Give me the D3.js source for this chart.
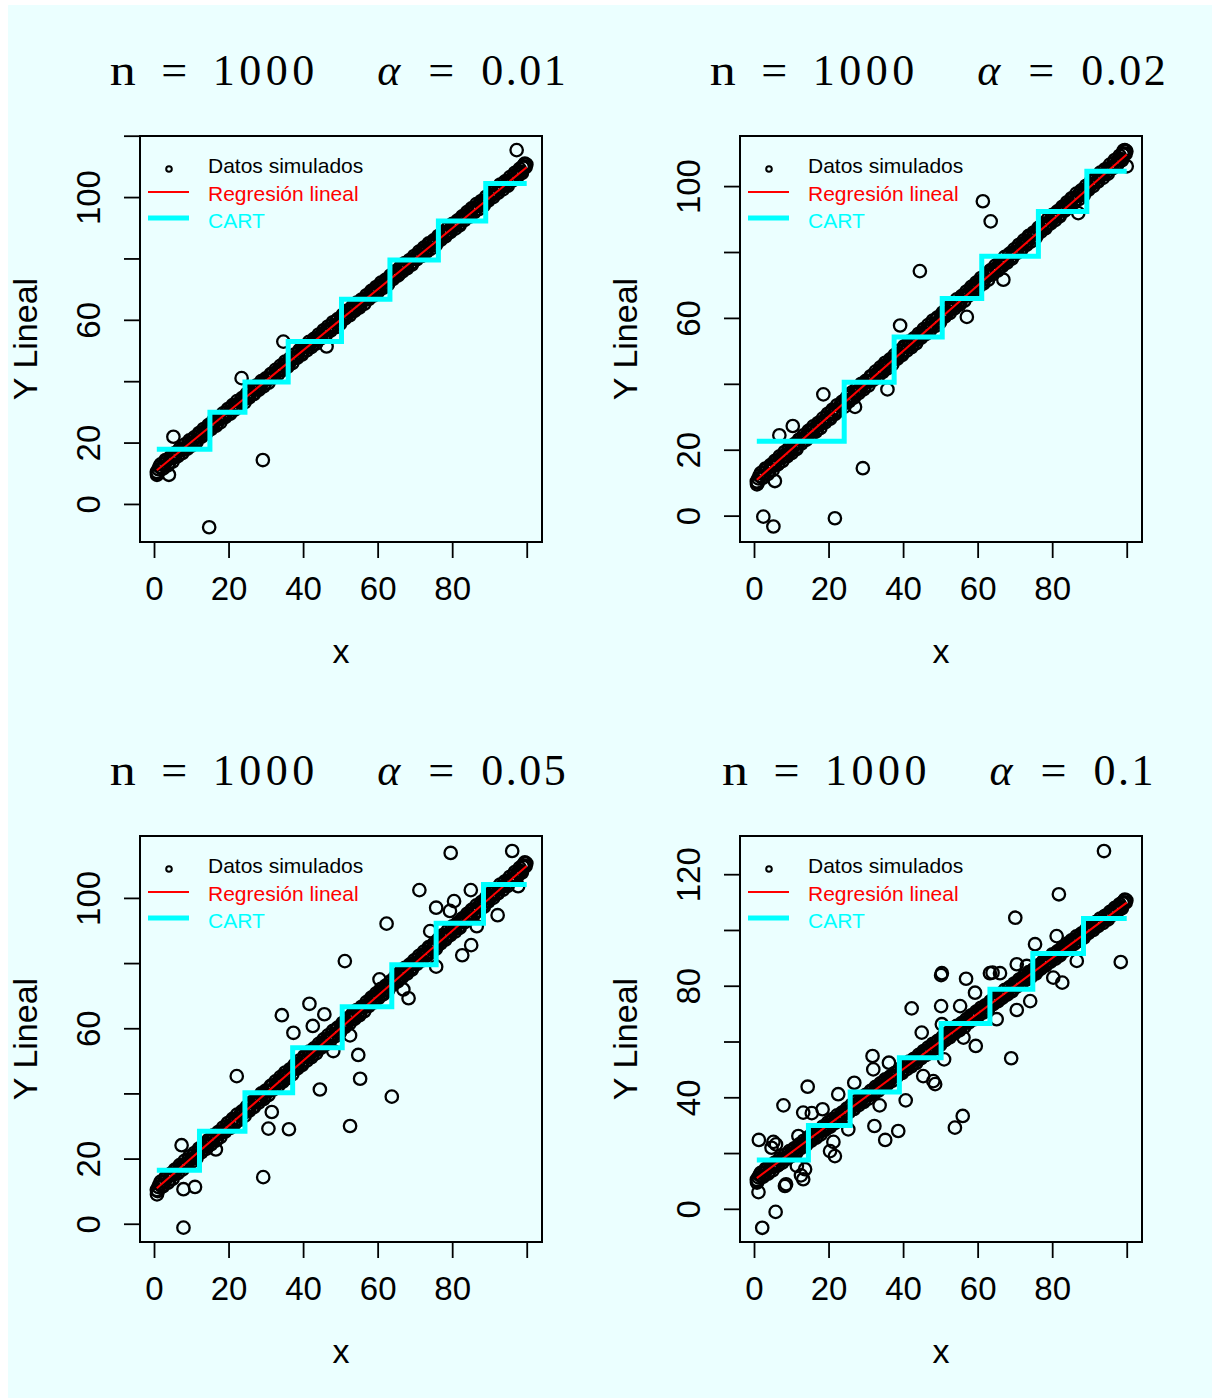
<!DOCTYPE html>
<html>
<head>
<meta charset="utf-8">
<script src="https://cdn.jsdelivr.net/npm/d3@7"></script>
<style>
  body { margin: 0; background: #ffffff; }
  svg { display: block; }
</style>
</head>
<body>
<svg id="fig" width="1212" height="1398"></svg>
<script>
// ---- data -------------------------------------------------------------
const alphas = ["0.01", "0.02", "0.05", "0.1"];
const sampleSize = "1000";

// clean simulated observations shared by every panel (two interleaved sweeps)
const bandX = [0.75,1.2,1.5,2.1,2.8,3.4,4.1,4.7,5.3,6.0,
  6.6,7.3,7.9,8.6,9.2,9.8,10.5,11.1,11.8,12.4,
  13.0,13.7,14.3,15.0,15.6,16.3,16.9,17.5,18.2,18.8,
  19.5,20.1,20.8,21.4,22.0,22.7,23.3,24.0,24.6,25.2,
  25.9,26.5,27.2,27.8,28.5,29.1,29.7,30.4,31.0,31.7,
  32.3,33.0,33.6,34.2,34.9,35.5,36.2,36.8,37.4,38.1,
  38.7,39.4,40.0,40.7,41.3,41.9,42.6,43.2,43.9,44.5,
  45.2,45.8,46.4,47.1,47.7,48.4,49.0,49.6,50.3,50.9,
  51.6,52.2,52.9,53.5,54.1,54.8,55.4,56.1,56.7,57.3,
  58.0,58.6,59.3,59.9,60.6,61.2,61.8,62.5,63.1,63.8,
  64.4,65.1,65.7,66.3,67.0,67.6,68.3,68.9,69.5,70.2,
  70.8,71.5,72.1,72.8,73.4,74.0,74.7,75.3,76.0,76.6,
  77.2,77.9,78.5,79.2,79.8,80.5,81.1,81.7,82.4,83.0,
  83.7,84.3,84.9,85.6,86.2,86.9,87.5,88.2,88.8,89.4,
  90.1,90.7,91.4,92.0,92.6,93.3,93.9,94.6,95.2,95.9,
  96.5,97.1,97.8,98.4,99.1,99.7,99.9,99.5,98.9];
const bandY = [10.4,11.3,12.1,11.6,12.9,14.1,13.5,14.9,15.2,16.5,
  15.9,17.6,17.9,18.2,19.8,19.6,20.9,20.5,21.9,23.1,
  22.7,23.9,23.8,25.5,25.5,26.6,26.2,28.1,28.0,28.8,
  29.9,29.6,31.5,31.1,32.1,32.1,33.8,33.9,34.9,34.8,
  36.5,35.8,37.4,37.8,38.2,39.6,39.2,40.8,40.8,42.4,
  41.7,43.1,43.9,43.8,45.5,45.4,45.5,47.2,47.6,47.8,
  49.2,48.9,50.0,51.4,51.1,52.2,52.0,53.8,53.5,54.6,
  55.6,55.1,56.6,57.0,58.2,58.1,59.7,59.1,60.3,61.2,
  61.0,62.8,62.7,63.9,63.7,64.9,64.7,66.6,66.9,67.0,
  68.7,68.5,68.8,70.2,71.2,70.6,71.8,72.9,72.9,74.3,
  74.0,75.3,75.0,76.9,77.1,77.3,79.0,78.4,79.8,80.1,
  81.2,80.9,82.6,82.8,83.2,84.6,84.3,85.5,85.3,86.9,
  87.9,87.6,88.6,88.7,90.3,90.4,91.5,91.1,93.0,93.0,
  93.5,94.6,94.2,96.3,95.8,97.1,98.0,97.7,98.9,99.1,
  100.7,100.6,101.8,101.4,102.9,103.3,104.6,104.2,105.4,105.7,
  107.0,106.6,108.1,108.2,109.5,109.8,110.6,110.9,109.9];
const bandX2 = [1.0,1.8,2.4,3.1,3.7,4.4,5.0,5.6,6.3,6.9,
  7.6,8.2,8.9,9.5,10.1,10.8,11.4,12.1,12.7,13.3,
  14.0,14.6,15.3,15.9,16.6,17.2,17.8,18.5,19.1,19.8,
  20.4,21.1,21.7,22.3,23.0,23.6,24.3,24.9,25.5,26.2,
  26.8,27.5,28.1,28.8,29.4,30.0,30.7,31.3,32.0,32.6,
  33.3,33.9,34.5,35.2,35.8,36.5,37.1,37.7,38.4,39.0,
  39.7,40.3,41.0,41.6,42.2,42.9,43.5,44.2,44.8,45.5,
  46.1,46.7,47.4,48.0,48.7,49.3,49.9,50.6,51.2,51.9,
  52.5,53.2,53.8,54.4,55.1,55.7,56.4,57.0,57.6,58.3,
  58.9,59.6,60.2,60.9,61.5,62.1,62.8,63.4,64.1,64.7,
  65.4,66.0,66.6,67.3,67.9,68.6,69.2,69.8,70.5,71.1,
  71.8,72.4,73.1,73.7,74.3,75.0,75.6,76.3,76.9,77.5,
  78.2,78.8,79.5,80.1,80.8,81.4,82.0,82.7,83.3,84.0,
  84.6,85.2,85.9,86.5,87.2,87.8,88.5,89.1,89.7,90.4,
  91.0,91.7,92.3,92.9,93.6,94.2,94.9,95.5,96.2,96.8,
  97.4,98.1,98.7,99.4];
const bandY2 = [10.0,12.9,11.5,14.3,12.6,15.3,13.8,16.6,15.5,18.0,
  16.6,19.3,18.0,20.7,19.0,21.7,20.2,23.1,21.9,24.4,
  23.0,25.7,24.4,27.1,25.5,28.1,26.6,29.5,28.3,30.9,
  29.4,32.2,30.8,33.5,31.9,34.5,33.1,35.9,34.7,37.3,
  35.8,38.6,37.2,40.0,38.3,40.9,39.5,42.3,41.2,43.7,
  42.3,45.0,43.6,46.4,44.7,47.4,45.9,48.7,47.6,50.1,
  48.7,51.4,50.1,52.8,51.1,53.8,52.3,55.2,54.0,56.6,
  55.1,57.8,56.5,59.2,57.6,60.2,58.7,61.6,60.4,63.0,
  61.5,64.3,62.9,65.6,64.0,66.6,65.2,68.0,66.8,69.4,
  67.9,70.7,69.3,72.1,70.4,73.0,71.6,74.4,73.3,75.8,
  74.4,77.1,75.7,78.5,76.8,79.5,78.0,80.8,79.7,82.2,
  80.8,83.5,82.2,84.9,83.2,85.9,84.4,87.3,86.1,88.6,
  87.2,89.9,88.6,91.3,89.7,92.3,90.8,93.7,92.5,95.1,
  93.6,96.3,95.0,97.7,96.1,98.7,97.3,100.1,98.9,101.5,
  100.0,102.8,101.4,104.1,102.5,105.1,103.7,106.5,105.4,107.9,
  106.4,109.2,107.8,110.6];

// contaminated observations, one pair of arrays per panel
const outX1 = [0.8, 4.0, 5.2, 29.2, 14.8, 23.5, 34.7, 46.3, 97.3];
const outY1 = [9.5, 9.5, 21.9, 14.3, -7.6, 41.0, 52.9, 51.3, 115.3];

const outX2 = [61.4, 63.5, 44.5, 39.2, 57.1, 66.9, 18.6, 35.8, 27.1, 10.4,
  6.8, 29.2, 5.6, 0.8, 2.5, 5.2, 21.7, 100.0, 87.0, 99.2];
const outY2 = [95.4, 89.3, 74.2, 57.7, 60.3, 71.6, 36.8, 38.3, 33.0, 27.2,
  24.4, 14.4, 10.5, 9.5, -0.3, -3.3, -0.8, 106.0, 91.8, 110.8];

const outX3 = [79.6, 96.1, 71.2, 85.0, 80.5, 75.7, 79.4, 92.2, 62.4, 74.1,
  85.1, 82.7, 75.7, 86.6, 51.2, 60.5, 66.9, 68.3, 41.7, 45.7,
  34.3, 42.6, 37.4, 52.6, 48.1, 54.8, 55.3, 22.2, 44.5, 63.8,
  31.6, 30.7, 36.2, 52.6, 7.4, 16.6, 29.3, 11.0, 7.9, 7.9, 0.8, 97.7];
const outY3 = [113.8, 114.4, 102.4, 102.4, 99.0, 97.0, 96.0, 94.7, 92.1, 89.8,
  85.5, 82.4, 78.9, 91.3, 80.6, 75.0, 71.9, 69.2, 67.5, 64.3,
  64.0, 60.7, 58.6, 57.8, 53.0, 51.8, 44.5, 45.3, 41.2, 39.0,
  34.3, 29.2, 29.0, 30.0, 24.1, 22.8, 14.3, 11.3, 10.6, -1.2, 9.0, 103.6];

const outX4 = [93.9, 81.8, 70.1, 75.4, 81.2, 98.4, 80.3, 82.7, 86.6, 50.4,
  50.2, 56.9, 63.3, 64.0, 66.0, 70.5, 59.3, 74.1, 70.5, 42.3,
  50.2, 55.3, 65.1, 45.0, 50.4, 56.2, 59.5, 51.0, 69.0, 31.8,
  32.0, 36.2, 45.4, 48.1, 48.6, 26.9, 40.7, 33.7, 22.6, 14.4,
  7.9, 13.2, 15.5, 18.4, 56.0, 53.9, 32.3, 38.7, 35.2, 25.3,
  21.3, 20.4, 21.7, 1.3, 5.2, 5.9, 4.7, 11.9, 13.7, 12.6,
  13.2, 11.5, 8.6, 8.3, 1.2, 5.8, 2.2, 0.8, 73.2];
const outY4 = [128.3, 112.8, 104.4, 94.9, 97.8, 88.5, 82.9, 81.1, 88.9, 84.5,
  83.8, 82.5, 84.5, 84.7, 84.5, 87.7, 77.5, 74.5, 71.3, 71.9,
  72.7, 72.7, 68.0, 63.2, 66.2, 61.4, 58.4, 53.6, 54.0, 54.8,
  50.0, 52.4, 47.6, 45.8, 44.7, 45.2, 38.9, 37.1, 41.1, 43.8,
  37.1, 34.5, 34.3, 35.7, 33.3, 29.1, 29.7, 27.9, 24.7, 28.5,
  24.0, 20.7, 18.9, 24.7, 24.0, 23.1, 21.9, 26.1, 14.2, 12.0,
  10.6, 15.4, 8.8, 8.2, 6.0, -1.1, -6.8, 9.4, 87.1];

// fitted linear regression, evaluated at the ends of the x range
const regX = [0.75, 100.0];
const regY1 = [11.0, 109.7];
const regY2 = [10.9, 109.6];
const regY3 = [10.9, 109.8];
const regY4 = [11.0, 109.8];

// CART regression tree: split points and leaf means
const cartBreaks1 = [0.75, 15.0, 24.4, 36.0, 50.3, 63.3, 76.3, 89.0, 100.0];
const cartLevels1 = [17.8, 29.9, 39.7, 52.9, 66.7, 79.5, 92.2, 104.4];
const cartBreaks2 = [0.75, 24.2, 37.6, 50.5, 61.1, 76.3, 89.3, 100.0];
const cartLevels2 = [22.6, 40.5, 54.2, 65.9, 78.7, 92.3, 104.5];
const cartBreaks3 = [0.75, 12.2, 24.4, 37.2, 50.5, 63.8, 75.7, 88.4, 100.0];
const cartLevels3 = [16.4, 28.4, 40.2, 54.0, 66.6, 79.5, 92.2, 104.1];
const cartBreaks4 = [0.75, 14.6, 25.8, 39.0, 50.2, 63.3, 74.8, 88.4, 100.0];
const cartLevels4 = [17.5, 29.9, 41.9, 54.2, 66.5, 78.7, 91.6, 104.1];

// axis limits and ticks
const xLim = [-3.76, 104.1];
const yLim1 = [-12.4, 119.9];
const yLim2 = [-8.0, 115.2];
const yLim3 = [-5.6, 119.0];
const yLim4 = [-11.9, 133.7];
const xTicks = [0, 20, 40, 60, 80, 100];
const xTickLabels = [0, 20, 40, 60, 80];
const yTicks1 = [0, 20, 40, 60, 80, 100, 120];
const yTicks2 = [0, 20, 40, 60, 80, 100];
const yTicks3 = [0, 20, 40, 60, 80, 100];
const yTicks4 = [0, 20, 40, 60, 80, 100, 120];
const yTickLabels1 = [0, 20, 60, 100];
const yTickLabels2 = [0, 20, 60, 100];
const yTickLabels3 = [0, 20, 60, 100];
const yTickLabels4 = [0, 40, 80, 120];

const legendLabels = ["Datos simulados", "Regresión lineal", "CART"];
const xTitle = "x";
const yTitle = "Y Lineal";

// ---- layout -----------------------------------------------------------
const panels = [
  { left: 140, top: 136, alpha: alphas[0], outX: outX1, outY: outY1, regY: regY1,
    cb: cartBreaks1, cl: cartLevels1, yLim: yLim1, yTicks: yTicks1, yLab: yTickLabels1 },
  { left: 740, top: 136, alpha: alphas[1], outX: outX2, outY: outY2, regY: regY2,
    cb: cartBreaks2, cl: cartLevels2, yLim: yLim2, yTicks: yTicks2, yLab: yTickLabels2 },
  { left: 140, top: 836, alpha: alphas[2], outX: outX3, outY: outY3, regY: regY3,
    cb: cartBreaks3, cl: cartLevels3, yLim: yLim3, yTicks: yTicks3, yLab: yTickLabels3 },
  { left: 740, top: 836, alpha: alphas[3], outX: outX4, outY: outY4, regY: regY4,
    cb: cartBreaks4, cl: cartLevels4, yLim: yLim4, yTicks: yTicks4, yLab: yTickLabels4 }
];
const W = 402, H = 406;
const SANS = "'Liberation Sans', Arial, Helvetica, sans-serif";
const SERIF = "'Liberation Serif', 'Times New Roman', serif";
const RED = "#ff0000", CYAN = "#00ffff";

const svg = d3.select("#fig");
svg.append("rect")
  .attr("x", 8).attr("y", 5).attr("width", 1204).attr("height", 1393)
  .attr("fill", "#ebffff");

const basePts = bandX.map((v, k) => [v, bandY[k]])
  .concat(bandX2.map((v, k) => [v, bandY2[k]]));

panels.forEach(p => {
  const x = d3.scaleLinear().domain(xLim).range([p.left, p.left + W]);
  const y = d3.scaleLinear().domain(p.yLim).range([p.top + H, p.top]);
  const g = svg.append("g");

  // observations
  const pts = basePts.concat(p.outX.map((v, k) => [v, p.outY[k]]));
  g.append("g").selectAll("circle").data(pts).join("circle")
    .attr("cx", d => x(d[0])).attr("cy", d => y(d[1])).attr("r", 6.2)
    .attr("fill", "none").attr("stroke", "#000").attr("stroke-width", 2.3);

  // linear regression fit
  g.append("path")
    .datum(regX.map((v, k) => [v, p.regY[k]]))
    .attr("d", d3.line().x(d => x(d[0])).y(d => y(d[1])))
    .attr("fill", "none").attr("stroke", RED).attr("stroke-width", 2);

  // CART step function
  const steps = p.cb.map((b, k) => [b, p.cl[Math.min(k, p.cl.length - 1)]]);
  g.append("path")
    .datum(steps)
    .attr("d", d3.line().curve(d3.curveStepAfter).x(d => x(d[0])).y(d => y(d[1])))
    .attr("fill", "none").attr("stroke", CYAN).attr("stroke-width", 5)
    .attr("stroke-linejoin", "miter");

  // plot frame
  g.append("rect")
    .attr("x", p.left).attr("y", p.top).attr("width", W).attr("height", H)
    .attr("fill", "none").attr("stroke", "#000").attr("stroke-width", 2);

  // x axis
  const gx = g.append("g")
    .attr("transform", `translate(0,${p.top + H})`)
    .call(d3.axisBottom(x).tickValues(xTicks).tickSize(16)
      .tickFormat(d => xTickLabels.includes(d) ? String(d) : ""));
  gx.select(".domain").remove();
  gx.attr("font-family", SANS).attr("font-size", 33);
  gx.selectAll(".tick line").attr("stroke", "#000").attr("stroke-width", 1.8);
  gx.selectAll(".tick text").attr("y", 58).attr("dy", null).attr("fill", "#000");

  // y axis (labels parallel to the axis)
  const gy = g.append("g")
    .attr("transform", `translate(${p.left},0)`)
    .call(d3.axisLeft(y).tickValues(p.yTicks).tickSize(16)
      .tickFormat(d => p.yLab.includes(d) ? String(d) : ""));
  gy.select(".domain").remove();
  gy.attr("font-family", SANS).attr("font-size", 33);
  gy.selectAll(".tick line").attr("stroke", "#000").attr("stroke-width", 1.8);
  gy.selectAll(".tick text")
    .attr("x", 0).attr("y", -40).attr("dy", null)
    .attr("transform", "rotate(-90)")
    .attr("text-anchor", "middle").attr("fill", "#000");

  // axis titles
  g.append("text")
    .attr("x", p.left + W / 2).attr("y", p.top + H + 121)
    .attr("text-anchor", "middle").attr("font-family", SANS).attr("font-size", 34)
    .text(xTitle);
  g.append("text")
    .attr("transform", `translate(${p.left - 103},${p.top + H / 2}) rotate(-90)`)
    .attr("text-anchor", "middle").attr("font-family", SANS).attr("font-size", 34)
    .text(yTitle);

  // legend
  const lg = g.append("g").attr("transform", `translate(${p.left},${p.top})`)
    .attr("font-family", SANS).attr("font-size", 21);
  lg.append("circle").attr("cx", 29).attr("cy", 33).attr("r", 2.8)
    .attr("fill", "none").attr("stroke", "#000").attr("stroke-width", 2);
  lg.append("line").attr("x1", 8).attr("x2", 49).attr("y1", 56).attr("y2", 56)
    .attr("stroke", RED).attr("stroke-width", 2);
  lg.append("line").attr("x1", 8).attr("x2", 49).attr("y1", 82).attr("y2", 82)
    .attr("stroke", CYAN).attr("stroke-width", 5);
  const legendColors = ["#000", RED, CYAN];
  const legendBase = [37.3, 64.5, 91.5];
  legendLabels.forEach((t, k) => {
    lg.append("text").attr("x", 68).attr("y", legendBase[k])
      .attr("fill", legendColors[k]).text(t);
  });

  // title: n = 1000   alpha = value, spaced as in typeset math
  const tg = g.append("g").attr("font-family", SERIF).attr("font-size", 44).attr("fill", "#000");
  const pieces = [
    ["n", 0, false, 0], ["=", 51.5, false, 0], [sampleSize, 103, false, 4.5],
    ["α", 267.5, true, 0], ["=", 318.5, false, 0], [p.alpha, 371.5, false, 2.5]
  ];
  pieces.forEach(([t, dx, it, ls]) => {
    const el = tg.append("text").attr("x", dx).attr("y", 0)
      .attr("font-style", it ? "italic" : null)
      .attr("letter-spacing", ls || null)
      .text(t);
    if (t === "n" || t === "=") el.attr("textLength", 26).attr("lengthAdjust", "spacingAndGlyphs");
  });
  const bb = tg.node().getBBox();
  const cx = p.left + W / 2 - 2;
  tg.attr("transform", `translate(${cx - (bb.x + bb.width / 2)},${p.top - 51})`);
});
</script>
</body>
</html>
